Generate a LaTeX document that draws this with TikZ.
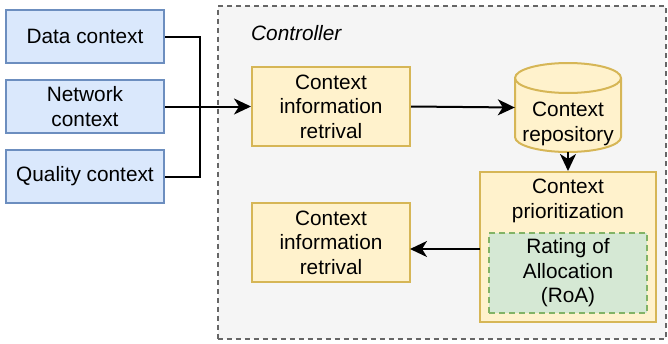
\documentclass[tikz,border=0pt]{standalone}
\usepackage{fontspec}
\setmainfont{Liberation Sans}
\usetikzlibrary{arrows.meta,calc}
\definecolor{bluefill}{HTML}{DAE8FC}
\definecolor{bluedraw}{HTML}{6C8EBF}
\definecolor{yelfill}{HTML}{FFF2CC}
\definecolor{yeldraw}{HTML}{D6B656}
\definecolor{grnfill}{HTML}{D5E8D4}
\definecolor{grndraw}{HTML}{82B366}
\definecolor{ctrlfill}{HTML}{F5F5F5}
\definecolor{ctrldraw}{HTML}{666666}
\begin{document}
\begin{tikzpicture}[x=1pt,y=-1pt,
  every node/.style={font=\fontsize{20.8}{24.5}\selectfont, align=center, inner sep=0pt},
  ctxbox/.style={draw=bluedraw, fill=bluefill, line width=2pt, minimum width=158pt, minimum height=53pt},
  yelbox/.style={draw=yeldraw, fill=yelfill, line width=2pt},
  roabox/.style={draw=grndraw, fill=grnfill, line width=2pt, dash pattern=on 6pt off 4pt},
  wire/.style={draw=black, line width=2pt},
  arr/.style={wire, -{Stealth[length=17pt,width=16pt,inset=5pt]}}
]
\useasboundingbox (0,0) rectangle (668,343);
% controller frame
\node[draw=ctrldraw, fill=ctrlfill, line width=1.6pt, dash pattern=on 5pt off 4pt,
  minimum width=448pt, minimum height=333pt, anchor=north west] (ctrl) at (217,5) {};
\node[anchor=west, font=\fontsize{20.8}{24}\selectfont\itshape] (ctrltxt) at (251,33) {Controller};
% context sources
\node[ctxbox] (data) at (85,36.5) {Data context};
\node[ctxbox] (net) at (85,106.5) {Network\\context};
\node[ctxbox] (qual) at (85,176.5) {Quality context};
% retrieval boxes
\node[yelbox, minimum width=158pt, minimum height=79pt] (cir1) at (331,106.5) {Context\\information\\retrival};
\node[yelbox, minimum width=158pt, minimum height=79pt] (cir2) at (331,242.5) {Context\\information\\retrival};
% repository cylinder
\node[minimum width=106pt, minimum height=89pt] (repo) at (568,107.5) {};
\path[yelbox] (515,78) arc[start angle=180, end angle=360, x radius=53, y radius=15]
  -- (621,137) arc[start angle=0, end angle=180, x radius=53, y radius=15] -- cycle;
\draw[yeldraw, line width=2pt] (515,78) arc[start angle=180, end angle=0, x radius=53, y radius=15];
\node (repotxt) at (568,124) {Context\\repository};
% prioritization
\node[yelbox, minimum width=176pt, minimum height=150pt] (prio) at (568,247) {};
\node (priotxt) at (568,201) {Context\\prioritization};
\node[roabox, minimum width=158pt, minimum height=80pt] (roa) at (568,273) {Rating of\\Allocation\\(RoA)};
% connectors
\coordinate (j) at (200,0);
\coordinate (pw) at (480,249);
\coordinate (ce) at (410,249);
\draw[wire] (data.east) -- (data.east -| j) -- (qual.east -| j) -- (qual.east);
\draw[arr] (net.east) -- (cir1.west);
\draw[arr] (cir1.east) -- (repo.west);
\draw[arr] (repo.south) -- (prio.north);
\draw[arr] (pw) -- (ce);
\end{tikzpicture}
\end{document}
